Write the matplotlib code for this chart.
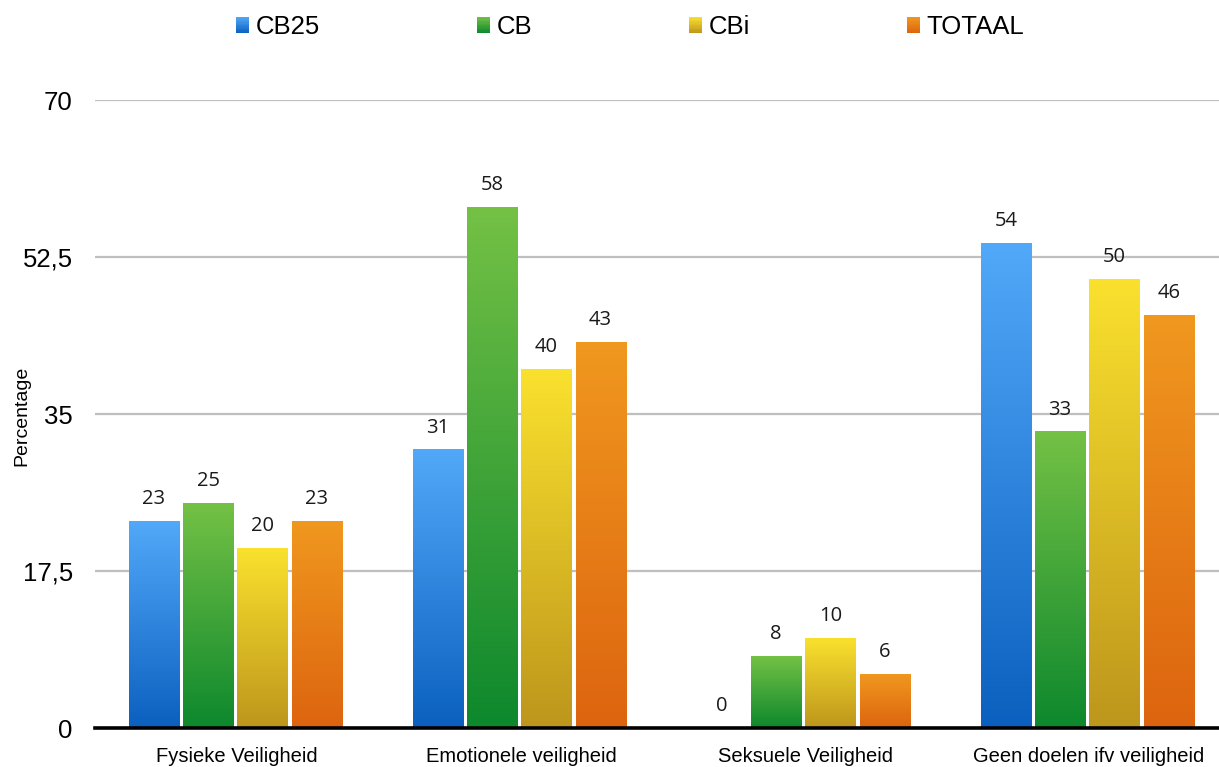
import numpy as np
import matplotlib
matplotlib.use("Agg")
import matplotlib.pyplot as plt
from matplotlib.colors import LinearSegmentedColormap
from matplotlib.legend_handler import HandlerBase
from matplotlib.patches import Rectangle

categories = ["Fysieke Veiligheid", "Emotionele veiligheid", "Seksuele Veiligheid", "Geen doelen ifv veiligheid"]
series_names = ["CB25", "CB", "CBi", "TOTAAL"]
cb25 = [23, 31, 0, 54]
cb = [25, 58, 8, 33]
cbi = [20, 40, 10, 50]
totaal = [23, 43, 6, 46]
yticks = [0, 17.5, 35, 52.5, 70]
ytick_labels = ["0", "17,5", "35", "52,5", "70"]

series = [cb25, cb, cbi, totaal]
# (top colour, bottom colour)
grads = [("#52A9F9", "#0B60BF"), ("#74C145", "#0D882D"),
         ("#FAE12E", "#BD961C"), ("#F0981F", "#DD640F")]

fig = plt.figure(figsize=(12.19, 7.67), dpi=100)
W, H = 1219, 767
ax = fig.add_axes([95 / W, 39 / H, 1136 / W, 628 / H])

step = 0.191
width = 0.177
x = np.arange(len(categories))
for i, (vals, (ctop, cbot)) in enumerate(zip(series, grads)):
    cmap = LinearSegmentedColormap.from_list(f"g{i}", [cbot, ctop])
    bars = ax.bar(x + (i - 1.5) * step - 0.006, vals, width=width, color="none", edgecolor="none", zorder=2)
    for b, v in zip(bars, vals):
        x0 = b.get_x()
        x1 = x0 + b.get_width()
        if v > 0:
            g = np.linspace(0, 1, 256).reshape(-1, 1)
            ax.imshow(g, extent=(x0, x1, 0, v), origin="lower", aspect="auto", cmap=cmap, zorder=2,
                      interpolation="bilinear")
        ax.annotate(f"{v}", (x0 + b.get_width() / 2, v), xytext=(0, 12.5), textcoords="offset points",
                    ha="center", va="baseline", fontsize=14.5, family="Open Sans", color="#1a1a1a")

ax.set_xlim(-0.5, 3.5)
ax.set_ylim(0, 70)
ax.set_yticks(yticks)
ax.set_yticklabels(ytick_labels, family="Liberation Sans", fontsize=18.5)
ax.set_xticks(x)
ax.set_xticklabels(categories, family="Liberation Sans", fontsize=14.5)
ax.tick_params(axis="both", length=0)
ax.tick_params(axis="y", pad=16)
ax.tick_params(axis="x", pad=14)
ax.grid(axis="y", color="#BFBFBF", linewidth=1.6, zorder=0)
ax.set_axisbelow(True)
for s in ["top", "right", "left"]:
    ax.spines[s].set_visible(False)
ax.spines["bottom"].set_linewidth(2.6)
ax.spines["bottom"].set_color("black")
ax.spines["bottom"].set_zorder(5)

fig.text(22 / W, 1 - 416 / H, "Percentage", rotation=90, ha="center", va="center",
         fontsize=14, family="Liberation Sans")


class GradHandler(HandlerBase):
    def __init__(self, ctop, cbot):
        super().__init__()
        self.ctop = ctop
        self.cbot = cbot

    def create_artists(self, legend, orig_handle, xdescent, ydescent, width, height, fontsize, trans):
        cmap = LinearSegmentedColormap.from_list("h", [self.cbot, self.ctop])
        n = 12
        arts = []
        for k in range(n):
            r = Rectangle((-xdescent, -ydescent + height * k / n), width, height / n + 0.3,
                          facecolor=cmap((k + 0.5) / n), edgecolor="none", transform=trans)
            arts.append(r)
        return arts


handles = [Rectangle((0, 0), 1, 1) for _ in series_names]
hmap = {h: GradHandler(ct, cbt) for h, (ct, cbt) in zip(handles, grads)}
fig.legend(handles, series_names, loc="center", bbox_to_anchor=(630 / W, 1 - 27 / H), ncol=4,
           frameon=False, prop={"family": "Liberation Sans", "size": 18.5},
           handlelength=0.52, handleheight=0.58, handletextpad=0.25, columnspacing=6.1,
           handler_map=hmap)

fig.savefig("out.png", dpi=100)
